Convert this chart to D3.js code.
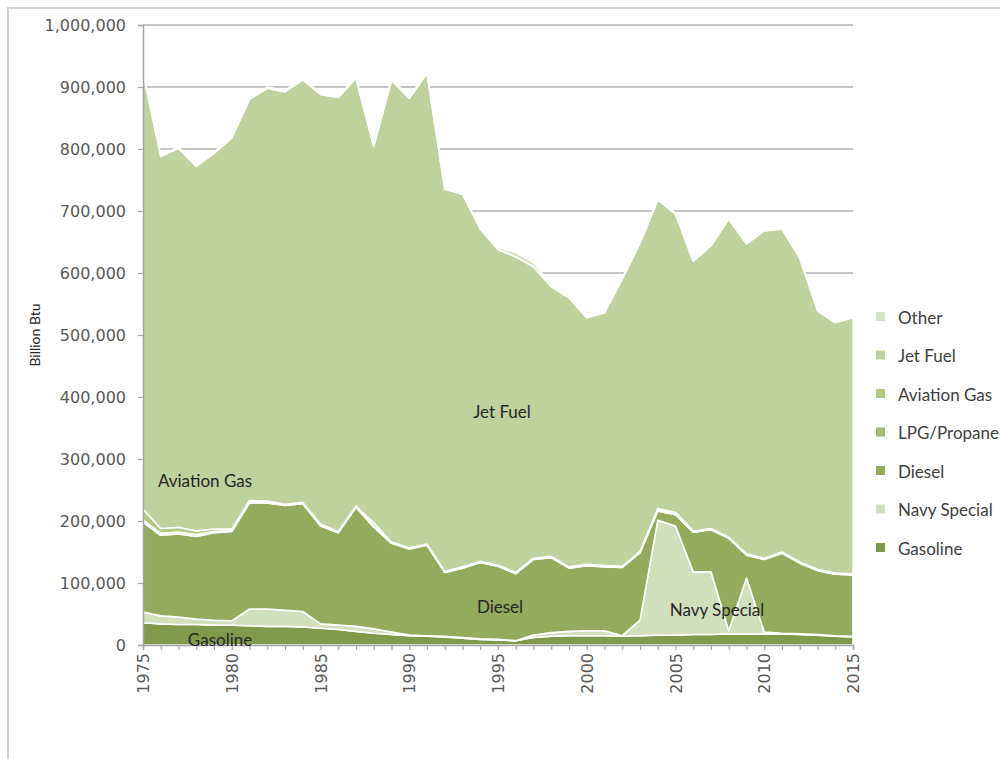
<!DOCTYPE html>
<html>
<head>
<meta charset="utf-8">
<script src="https://cdn.jsdelivr.net/npm/d3@7"></script>
<style>
  body { margin: 0; background: #fff; }
  .tickText { font-family: "DejaVu Sans", sans-serif; font-size: 16px; fill: #595959; }
  .labelText { font-family: "Lato", sans-serif; font-size: 17px; fill: #262626; }
  .legendText { font-family: "Lato", sans-serif; font-size: 17px; fill: #404040; }
</style>
</head>
<body>
<div id="chart"></div>
<script>
// Data (Billion Btu)
var years = [1975,1976,1977,1978,1979,1980,1981,1982,1983,1984,1985,1986,1987,1988,1989,1990,1991,1992,1993,1994,1995,
  1996,1997,1998,1999,2000,2001,2002,2003,2004,2005,2006,2007,2008,2009,2010,2011,2012,2013,2014,2015];

var gasoline = [36000,34000,33000,33000,32000,32000,31000,30000,30000,29000,27000,25000,22000,19000,17000,15000,14000,13000,11000,9000,8000,
  7000,12000,14000,15000,15000,15000,14000,15000,16000,16000,17000,17000,18000,18000,18000,18000,17000,16000,14000,13000];
var navySpecial = [17000,13000,12000,9000,8000,7000,27000,28000,26000,25000,7000,7000,8000,7000,4000,1000,1000,1000,1000,1000,1000,
  0,4000,6000,7000,8000,8000,1000,25000,185000,176000,101000,101000,5000,90000,3000,1000,1000,1000,1000,1000];
var diesel = [145000,130000,134000,133000,141000,144000,171000,171000,169000,174000,158000,149000,192000,164000,143000,139000,146000,103000,112000,123000,118000,
  108000,122000,121000,102000,105000,103000,110000,109000,15000,18000,64000,68000,149000,37000,117000,129000,114000,103000,99000,99000];
var lpgPropane = [4000,3000,3000,3000,2000,2000,2000,2000,1000,1000,2000,1000,1000,2000,1000,1000,1000,1000,1000,1000,1000,
  1000,1000,1000,1000,1000,1000,1000,1000,2000,2000,1000,1000,1000,1000,1000,1000,1000,1000,1000,1000];
var aviationGas = [17000,8000,8000,6000,4000,2000,2000,1000,1000,1000,1000,1000,1000,5000,1000,1000,1000,1000,1000,1000,1000,
  1000,1000,1000,1000,1000,1000,1000,1000,2000,2000,1000,1000,1000,1000,1000,1000,1000,1000,1000,1000];
var jetFuel = [704000,600000,611000,588000,606000,631000,647000,666000,665000,682000,693000,700000,690000,607000,745000,725000,759000,616000,601000,536000,509000,
  509000,470000,435000,434000,398000,408000,463000,497000,498000,481000,435000,456000,513000,500000,528000,521000,490000,417000,404000,413000];
var other = [2000,2000,2000,2000,2000,2000,2000,2000,2000,2000,2000,2000,2000,2000,2000,2000,2000,2000,2000,2000,3000,
  7000,7000,3000,2000,2000,2000,2000,2000,2000,2000,2000,2000,2000,2000,2000,2000,2000,2000,2000,2000];

var seriesNames = ["Gasoline", "Navy Special", "Diesel", "LPG/Propane", "Aviation Gas", "Jet Fuel", "Other"];
var seriesValues = [gasoline, navySpecial, diesel, lpgPropane, aviationGas, jetFuel, other];
var seriesColors = ["#7f9a4b", "#d2dfbd", "#94aa5d", "#a3bc6e", "#b0c983", "#bfd19d", "#d7e3c6"];

var yTicks = [0,100000,200000,300000,400000,500000,600000,700000,800000,900000,1000000];
var xLabelYears = [1975,1980,1985,1990,1995,2000,2005,2010,2015];

var svgWidth = 1000;
var svgHeight = 759;
var margin = { top: 25, left: 143, right: 147, bottom: 114 };
var width = svgWidth - margin.left - margin.right;
var height = svgHeight - margin.top - margin.bottom;

var svg = d3.select("#chart").append("svg")
  .attr("width", svgWidth).attr("height", svgHeight);

// outer frame
svg.append("rect")
  .attr("x", 8).attr("y", 8).attr("width", 1100).attr("height", 900)
  .attr("fill", "none").attr("stroke", "#d0d0d0").attr("stroke-width", 2);

var chartGroup = svg.append("g")
  .attr("transform", `translate(${margin.left}, ${margin.top})`);

// rows for the stack
var table = years.map(function(yr, i) {
  var row = { year: yr };
  seriesNames.forEach(function(name, k) { row[name] = seriesValues[k][i]; });
  return row;
});

var xScale = d3.scaleLinear().domain([1975, 2015]).range([0, width]);
var yScale = d3.scaleLinear().domain([0, 1000000]).range([height, 0]);

// gridlines
chartGroup.selectAll(".grid")
  .data(yTicks.slice(1))
  .enter()
  .append("line")
  .attr("x1", 0).attr("x2", width)
  .attr("y1", d => yScale(d)).attr("y2", d => yScale(d))
  .attr("stroke", "#c4c4c4").attr("stroke-width", 2);

var stacked = d3.stack().keys(seriesNames)(table);

var area = d3.area()
  .x(d => xScale(d.data.year))
  .y0(d => yScale(d[0]))
  .y1(d => yScale(d[1]));

chartGroup.selectAll(".layer")
  .data(stacked)
  .enter()
  .append("path")
  .attr("class", "layer")
  .attr("d", area)
  .attr("fill", (d, i) => seriesColors[i])
  .attr("stroke", "#ffffff")
  .attr("stroke-width", 1.6)
  .attr("stroke-linejoin", "round");

// axes
var leftAxis = d3.axisLeft(yScale).tickValues(yTicks).tickSize(5).tickFormat(d3.format(","));
var bottomAxis = d3.axisBottom(xScale).ticks(40).tickSize(5).tickFormat("");

var yAxisG = chartGroup.append("g").call(leftAxis);
yAxisG.selectAll("text").attr("class", "tickText").attr("x", -17).style("font-size", null).style("font-family", null);
yAxisG.attr("font-size", null).attr("font-family", null);

var xAxisG = chartGroup.append("g")
  .attr("transform", `translate(0, ${height})`)
  .call(bottomAxis);

[yAxisG, xAxisG].forEach(function(g) {
  g.select(".domain").attr("stroke", "#a6a6a6").attr("stroke-width", 1.5);
  g.selectAll(".tick line").attr("stroke", "#a6a6a6").attr("stroke-width", 1.2);
});

// rotated year labels
chartGroup.selectAll(".yearLabel")
  .data(xLabelYears)
  .enter()
  .append("text")
  .attr("class", "tickText")
  .attr("transform", d => `translate(${xScale(d) + 6}, ${height + 8}) rotate(-90)`)
  .attr("text-anchor", "end")
  .text(d => d);

// y axis title
svg.append("text")
  .attr("class", "labelText")
  .attr("transform", "translate(40, 335) rotate(-90)")
  .attr("text-anchor", "middle")
  .style("font-size", "14px")
  .text("Billion Btu");

// labels inside the areas
var areaLabels = [
  { text: "Aviation Gas", x: 205, y: 487 },
  { text: "Jet Fuel", x: 502, y: 418 },
  { text: "Diesel", x: 500, y: 613 },
  { text: "Navy Special", x: 717, y: 616 },
  { text: "Gasoline", x: 220, y: 646 }
];
svg.selectAll(".areaLabel")
  .data(areaLabels)
  .enter()
  .append("text")
  .attr("class", "labelText")
  .attr("x", d => d.x).attr("y", d => d.y)
  .attr("text-anchor", "middle")
  .text(d => d.text);

// legend, top entry is the top layer
var legendNames = seriesNames.slice().reverse();
var legendColors = seriesColors.slice().reverse();
var legend = svg.append("g").attr("transform", "translate(876, 317)");
legendNames.forEach(function(name, i) {
  var row = legend.append("g").attr("transform", `translate(0, ${i * 38.5})`);
  row.append("rect")
    .attr("x", 0).attr("y", -5).attr("width", 9).attr("height", 9)
    .attr("fill", legendColors[i]);
  row.append("text")
    .attr("class", "legendText")
    .attr("x", 22).attr("y", 0)
    .attr("dominant-baseline", "central")
    .text(name);
});
</script>
</body>
</html>
